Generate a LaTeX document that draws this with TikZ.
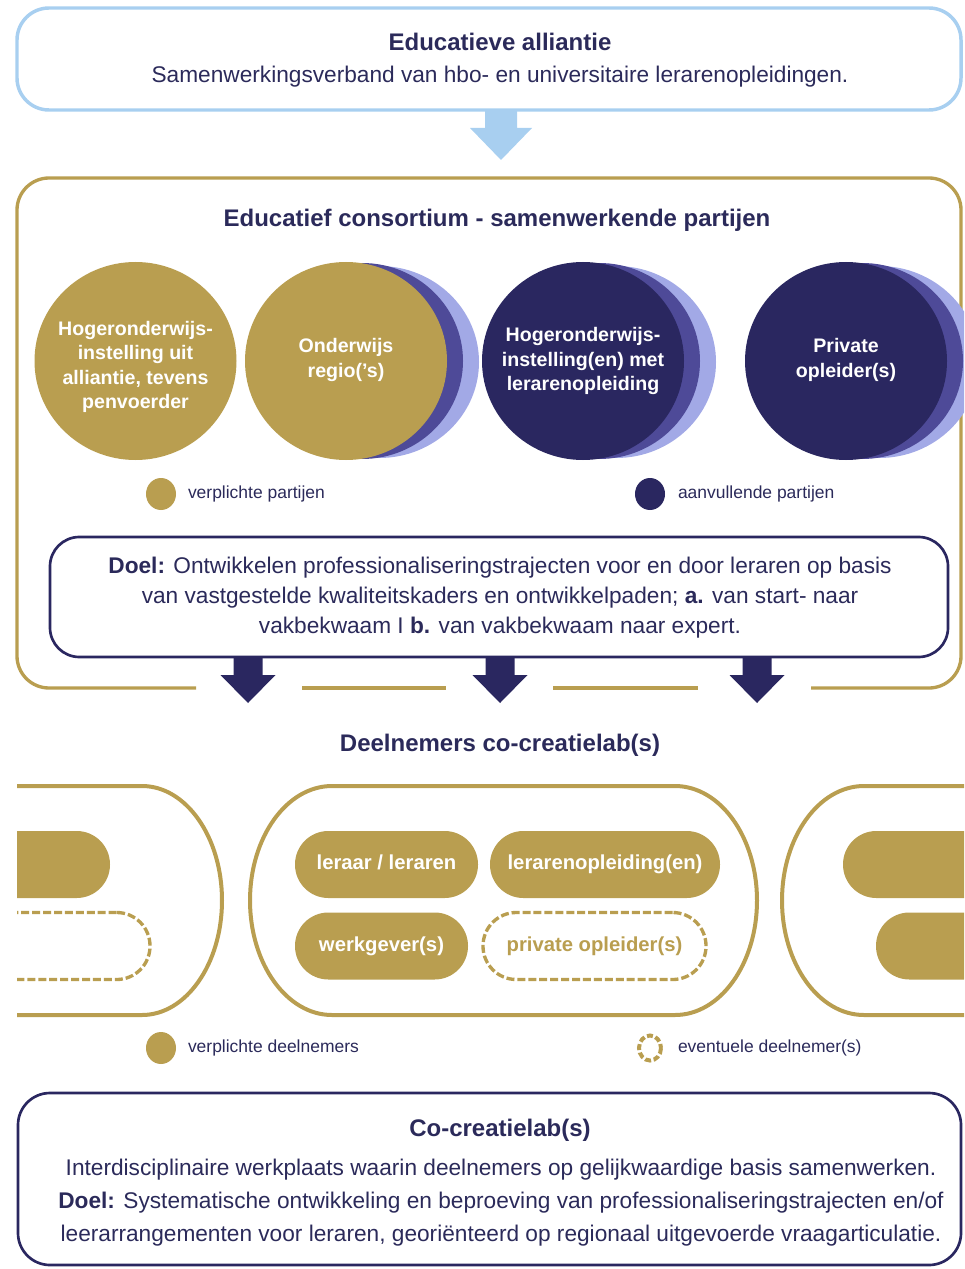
\documentclass[tikz,border=0pt]{standalone}
\usepackage{fontspec}
\setmainfont{Liberation Sans}
\usetikzlibrary{shapes.geometric}
\definecolor{navy}{HTML}{2A2760}
\definecolor{txt}{HTML}{2B2A5A}
\definecolor{gold}{HTML}{B99E50}
\definecolor{lblue}{HTML}{A8CFF0}
\definecolor{mpurp}{HTML}{4E4A98}
\definecolor{lpurp}{HTML}{A2A9E6}
\begin{document}
\begin{tikzpicture}[x=0.75pt,y=-0.75pt,
  every node/.style={inner sep=0pt, outer sep=0pt},
  ttl/.style={font=\fontsize{18}{22}\selectfont\bfseries, text=txt},
  bodytxt/.style={font=\fontsize{17}{22.5}\selectfont, text=txt, align=center},
  bodytxtB/.style={font=\fontsize{17}{24.75}\selectfont, text=txt, align=center},
  circtxt/.style={font=\fontsize{14.7}{18.4}\selectfont\bfseries, text=white, align=center},
  disc/.style={ellipse, minimum width=151.5pt, minimum height=148.5pt},
  legtxt/.style={font=\fontsize{13.1}{16}\selectfont, text=txt, anchor=west},
  pill/.style={rounded corners=25pt, minimum height=50.25pt, text height=11pt, text depth=3pt, font=\fontsize{15.2}{18}\selectfont\bfseries},
  fullpill/.style={pill, fill=gold, text=white},
  dashpill/.style={pill, draw=gold, line width=2.5pt, dash pattern=on 6pt off 2.2pt, text=gold},
  stadium/.style={draw=gold, line width=3pt},
  boxline/.style={line width=2pt}
]
\useasboundingbox (0,0) rectangle (964,1269);
\clip (0,0) rectangle (964,1269);

% --- Educatieve alliantie
\node[draw=lblue, line width=2.6pt, rounded corners=24pt, minimum width=708pt, minimum height=76.5pt] (alli) at (489,59) {};
\node[ttl] (allit) at (500,42) {Educatieve alliantie};
\node[bodytxt] (allis) at (500,77) {Samenwerkingsverband van hbo- en universitaire lerarenopleidingen.};
\fill[lblue] (485,110) -- (517,110) -- (517,128) -- (532,128) -- (501,160) -- (470,128) -- (485,128) -- cycle;

% --- Educatief consortium
\draw[gold, line width=2.5pt, rounded corners=24pt] (196,688) -| (17,178) -| (961,688) -- (811,688);
\draw[gold, line width=2.5pt] (302,688) -- (446,688) (553,688) -- (698,688);
\node[ttl] (const) at (497,220) {Educatief consortium - samenwerkende partijen};

\node[disc, fill=gold] (c1) at (135.5,361) {};
\node[circtxt] (c1t) at (135.5,367) {Hogeronderwijs-\\instelling uit\\alliantie, tevens\\penvoerder};

\fill[lpurp] (379,362) ellipse[x radius=100, y radius=96];
\fill[mpurp] (362,361) ellipse[x radius=101, y radius=98];
\node[disc, fill=gold] (c2) at (346,361) {};
\node[circtxt] (c2t) at (346,360) {Onderwijs\\regio('s)};

\fill[lpurp] (616,362) ellipse[x radius=100, y radius=96];
\fill[mpurp] (599,361) ellipse[x radius=101, y radius=98];
\node[disc, fill=navy] (c3) at (583,361) {};
\node[circtxt] (c3t) at (583,361) {Hogeronderwijs-\\instelling(en) met\\lerarenopleiding};

\fill[lpurp] (879,362) ellipse[x radius=100, y radius=96];
\fill[mpurp] (862,361) ellipse[x radius=101, y radius=98];
\node[disc, fill=navy] (c4) at (846,361) {};
\node[circtxt] (c4t) at (846,360) {Private\\opleider(s)};

\fill[gold] (161,494) ellipse[x radius=15, y radius=16];
\node[legtxt] (leg1) at (188,494) {verplichte partijen};
\fill[navy] (650,494) ellipse[x radius=15, y radius=16];
\node[legtxt] (leg2) at (678,494) {aanvullende partijen};

\node[draw=navy, boxline, fill=white, rounded corners=22pt, minimum width=673.5pt, minimum height=90pt] (doel) at (499,597) {};
\node[bodytxt] (doelt) at (500,598) {\textbf{Doel:} Ontwikkelen professionaliseringstrajecten voor en door leraren op basis\\van vastgestelde kwaliteitskaders en ontwikkelpaden; \textbf{a.} van start- naar\\vakbekwaam I \textbf{b.} van vakbekwaam naar expert.};

\foreach \c in {248,500,757}{
  \fill[navy] (\c-14.5,656) -- (\c+14.5,656) -- (\c+14.5,675) -- (\c+27.5,675) -- (\c,703) -- (\c-27.5,675) -- (\c-14.5,675) -- cycle;
}

% --- Deelnemers
\node[ttl] (deelt) at (500,745) {Deelnemers co-creatielab(s)};

\begin{scope}
\clip (17,770) rectangle (964,1030);
% left stadium
\draw[stadium] (0,786) -- (142,786) arc[start angle=-90, end angle=90, x radius=80, y radius=114.5] -- (0,1015);
\node[fullpill, minimum width=112.5pt] (lp1) at (35,864.5) {};
\node[dashpill, minimum width=142.5pt] (lp2) at (55,946) {};
% middle stadium
\draw[stadium] (332,786) -- (675,786) arc[start angle=-90, end angle=90, x radius=82, y radius=114.5] -- (332,1015) arc[start angle=90, end angle=270, x radius=82, y radius=114.5] -- cycle;
% right stadium
\draw[stadium] (980,786) -- (864,786) arc[start angle=270, end angle=90, x radius=82, y radius=114.5] -- (980,1015);
\node[fullpill, minimum width=120pt] (rp1) at (923,864.5) {};
\node[fullpill, minimum width=120pt] (rp2) at (956,946) {};
\end{scope}

\node[fullpill, minimum width=137.25pt] (p1) at (386.5,864.5) {leraar / leraren};
\node[fullpill, minimum width=172.5pt] (p2) at (605,864.5) {lerarenopleiding(en)};
\node[fullpill, minimum width=129.75pt] (p3) at (381.5,946) {werkgever(s)};
\node[dashpill, minimum width=167.25pt] (p4) at (594.5,946) {private opleider(s)};

\fill[gold] (161,1048) ellipse[x radius=15, y radius=16];
\node[legtxt] (leg3) at (188,1048) {verplichte deelnemers};
\draw[gold, line width=3pt, dash pattern=on 4.5pt off 2pt] (650,1048) ellipse[x radius=11, y radius=12.5];
\node[legtxt] (leg4) at (678,1048) {eventuele deelnemer(s)};

% --- Co-creatielab
\node[draw=navy, boxline, rounded corners=24pt, minimum width=707.25pt, minimum height=129pt] (colab) at (489.5,1179) {};
\node[ttl] (colabt) at (500,1130) {Co-creatielab(s)};
\node[bodytxtB] (colabs) at (501,1203) {Interdisciplinaire werkplaats waarin deelnemers op gelijkwaardige basis samenwerken.\\\textbf{Doel:} Systematische ontwikkeling en beproeving van professionaliseringstrajecten en/of\\leerarrangementen voor leraren, georiënteerd op regionaal uitgevoerde vraagarticulatie.};
\end{tikzpicture}
\end{document}
